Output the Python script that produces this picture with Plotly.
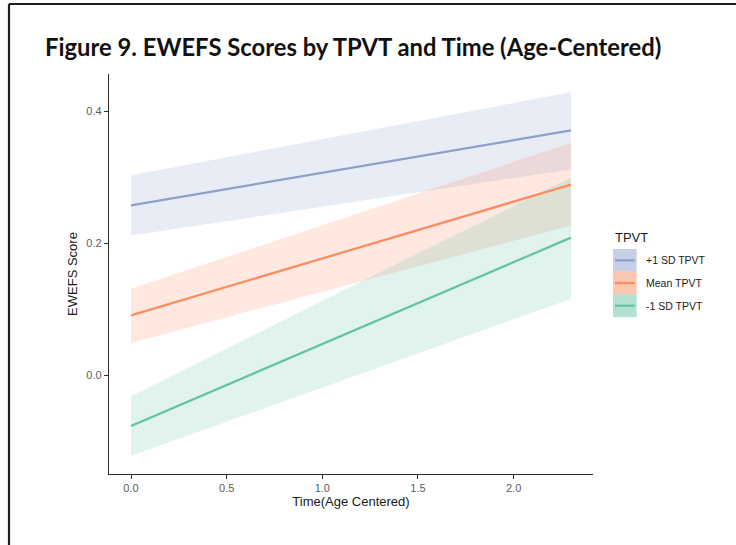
import plotly.graph_objects as go

# Predicted EWEFS scores (with 95% CI) at three TPVT levels over age-centred time
time = [0.0, 2.3]
groups = ["+1 SD TPVT", "Mean TPVT", "-1 SD TPVT"]

fit_plus1 = [0.2576, 0.371]
lower_plus1 = [0.212, 0.312]
upper_plus1 = [0.303, 0.429]

fit_mean = [0.0909, 0.289]
lower_mean = [0.049, 0.227]
upper_mean = [0.131, 0.3525]

fit_minus1 = [-0.0768, 0.2086]
lower_minus1 = [-0.122, 0.116]
upper_minus1 = [-0.0318, 0.300]

x_ticks = [0.0, 0.5, 1.0, 1.5, 2.0]
y_ticks = [0.0, 0.2, 0.4]

colors = ["#8DA0CB", "#FC8D62", "#66C2A5"]
rgb = [(141, 160, 203), (252, 141, 98), (102, 194, 165)]

series = [
    (fit_plus1, lower_plus1, upper_plus1),
    (fit_mean, lower_mean, upper_mean),
    (fit_minus1, lower_minus1, upper_minus1),
]

# page geometry
W_PAGE, H_PAGE = 736, 545
M_L, M_R, M_T, M_B = 109, 143, 74, 71
PW = W_PAGE - M_L - M_R
PH = H_PAGE - M_T - M_B


def px(xp):
    return (xp - M_L) / PW


def py(yp):
    return (H_PAGE - M_B - yp) / PH


fig = go.Figure()

# confidence ribbons
for (fit, lo, up), (r, g, b), name in zip(series, rgb, groups):
    fig.add_trace(go.Scatter(
        x=time + time[::-1],
        y=up + lo[::-1],
        fill="toself",
        fillcolor=f"rgba({r},{g},{b},0.2)",
        line=dict(width=0),
        mode="lines",
        hoverinfo="skip",
        showlegend=False,
        name=name,
    ))

# fitted lines
for (fit, lo, up), c, name in zip(series, colors, groups):
    fig.add_trace(go.Scatter(
        x=time, y=fit, mode="lines",
        line=dict(color=c, width=2.3),
        showlegend=False, name=name,
    ))

axis_common = dict(
    showgrid=False, zeroline=False,
    showline=True, linecolor="#2b2b2b", linewidth=1.4,
    ticks="outside", ticklen=4, tickwidth=1.1, tickcolor="#333333",
    tickfont=dict(family="Liberation Sans, Arial, sans-serif", size=11, color="#5e5e5e"),
    tickformat=".1f",
)

fig.update_xaxes(
    range=[-0.115, 2.415], tickvals=x_ticks,
    title=dict(text="Time(Age Centered)", standoff=3,
               font=dict(family="Liberation Sans, Arial, sans-serif", size=13, color="#1a1a1a")),
    **axis_common,
)
fig.update_yaxes(
    range=[-0.1496, 0.4566], tickvals=y_ticks,
    title=dict(text="EWEFS Score", standoff=5,
               font=dict(family="Liberation Sans, Arial, sans-serif", size=13, color="#1a1a1a")),
    **axis_common,
)

shapes = []
annotations = []

# legend: title, keys, labels
annotations.append(dict(
    x=px(613), y=py(237), xref="paper", yref="paper",
    xanchor="left", yanchor="middle", showarrow=False,
    text="TPVT", font=dict(family="Liberation Sans, Arial, sans-serif", size=13, color="#1a1a1a"),
))
key_top = 249.0
key_h = 22.7
for i, ((r, g, b), c, name) in enumerate(zip(rgb, colors, groups)):
    y0 = key_top + i * key_h
    y1 = y0 + key_h
    shapes.append(dict(
        type="rect", xref="paper", yref="paper",
        x0=px(613), x1=px(636.7), y0=py(y1), y1=py(y0),
        fillcolor=f"rgba({r},{g},{b},0.5)", line=dict(width=0), layer="above",
    ))
    shapes.append(dict(
        type="line", xref="paper", yref="paper",
        x0=px(615), x1=px(634.7), y0=py((y0 + y1) / 2), y1=py((y0 + y1) / 2),
        line=dict(color=c, width=2.3), layer="above",
    ))
    annotations.append(dict(
        x=px(644), y=py((y0 + y1) / 2), xref="paper", yref="paper",
        xanchor="left", yanchor="middle", showarrow=False,
        text=name, font=dict(family="Liberation Sans, Arial, sans-serif", size=10.5, color="#1a1a1a"),
    ))

# slide frame (left and top edges)
shapes.append(dict(type="line", xref="paper", yref="paper",
                   x0=px(9), x1=px(9), y0=py(H_PAGE + 5), y1=py(4),
                   line=dict(color="#1e1e1e", width=2.2)))
shapes.append(dict(type="line", xref="paper", yref="paper",
                   x0=px(9), x1=px(W_PAGE + 5), y0=py(4), y1=py(4),
                   line=dict(color="#1e1e1e", width=2.2)))

fig.update_layout(
    width=W_PAGE, height=H_PAGE,
    margin=dict(l=M_L, r=M_R, t=M_T, b=M_B),
    paper_bgcolor="white", plot_bgcolor="white",
    title=dict(
        text="<b>Figure 9. EWEFS Scores by TPVT and Time (Age-Centered)</b>",
        x=45 / W_PAGE, xanchor="left", xref="container",
        y=1 - 48 / H_PAGE, yanchor="middle", yref="container",
        font=dict(family="Lato, sans-serif", size=23.8, color="#111111"),
    ),
    shapes=shapes,
    annotations=annotations,
    showlegend=False,
)

fig.write_html("out.html")
